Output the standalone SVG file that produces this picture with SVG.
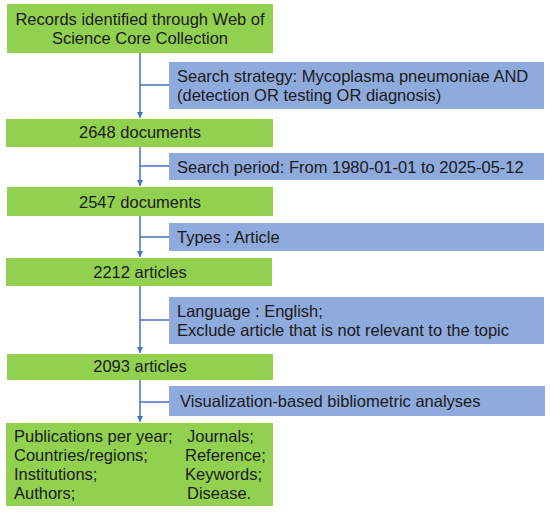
<svg xmlns="http://www.w3.org/2000/svg" width="550" height="512" viewBox="0 0 550 512">
<style>
.g{fill:#92D050}
.b{fill:#8FAADC}
text{font-family:"Liberation Sans",Arial,sans-serif;font-size:16.5px;fill:#1a1a1a}
.c{text-anchor:middle}
.ln{stroke:#4472C4;stroke-width:1.5;fill:none}
</style>
<defs>
<marker id="ah" markerWidth="8" markerHeight="8" refX="6" refY="4" orient="auto" markerUnits="userSpaceOnUse">
<path d="M0,1 L6,4 L0,7 Z" fill="#4472C4"/>
</marker>
</defs>
<g id="connectors">
<line class="ln" x1="140" y1="53" x2="140" y2="118" marker-end="url(#ah)"/>
<line class="ln" x1="140" y1="85" x2="169" y2="85"/>
<line class="ln" x1="140" y1="147" x2="140" y2="186" marker-end="url(#ah)"/>
<line class="ln" x1="140" y1="166" x2="169" y2="166"/>
<line class="ln" x1="140" y1="216" x2="140" y2="257" marker-end="url(#ah)"/>
<line class="ln" x1="140" y1="237" x2="169" y2="237"/>
<line class="ln" x1="140" y1="286" x2="140" y2="353" marker-end="url(#ah)"/>
<line class="ln" x1="140" y1="320" x2="169" y2="320"/>
<line class="ln" x1="140" y1="380" x2="140" y2="422" marker-end="url(#ah)"/>
<line class="ln" x1="140" y1="402" x2="169" y2="402"/>
</g>
<g id="n1"><rect class="g" x="7" y="4" width="266" height="49"/>
<text class="c" x="140" y="25">Records identified through Web of</text>
<text class="c" x="140" y="44">Science Core Collection</text></g>
<g id="s1"><rect class="b" x="169" y="62" width="375" height="47"/>
<text x="177" y="82">Search strategy: Mycoplasma pneumoniae AND</text>
<text x="177" y="101">(detection OR testing OR diagnosis)</text></g>
<g id="n2"><rect class="g" x="6" y="119" width="267" height="28"/>
<text class="c" x="140" y="138">2648 documents</text></g>
<g id="s2"><rect class="b" x="169" y="153" width="375" height="27"/>
<text x="177" y="173">Search period: From 1980-01-01 to 2025-05-12</text></g>
<g id="n3"><rect class="g" x="7" y="187" width="266" height="29"/>
<text class="c" x="140" y="208">2547 documents</text></g>
<g id="s3"><rect class="b" x="169" y="223" width="375" height="28"/>
<text x="177" y="243">Types : Article</text></g>
<g id="n4"><rect class="g" x="6" y="258" width="266" height="28"/>
<text class="c" x="140" y="278">2212 articles</text></g>
<g id="s4"><rect class="b" x="169" y="297" width="375" height="47"/>
<text x="177" y="317">Language : English;</text>
<text x="177" y="336">Exclude article that is not relevant to the topic</text></g>
<g id="n5"><rect class="g" x="7" y="354" width="266" height="26"/>
<text class="c" x="140" y="372">2093 articles</text></g>
<g id="s5"><rect class="b" x="169" y="386" width="376" height="30"/>
<text x="180" y="407">Visualization-based bibliometric analyses</text></g>
<g id="n6"><rect class="g" x="6" y="423" width="267" height="83"/>
<text x="14" y="442">Publications per year;</text>
<text x="14" y="461">Countries/regions;</text>
<text x="14" y="480">Institutions;</text>
<text x="14" y="499">Authors;</text>
<text x="187" y="442">Journals;</text>
<text x="185" y="461">Reference;</text>
<text x="185" y="480">Keywords;</text>
<text x="187" y="499">Disease.</text></g>
</svg>
